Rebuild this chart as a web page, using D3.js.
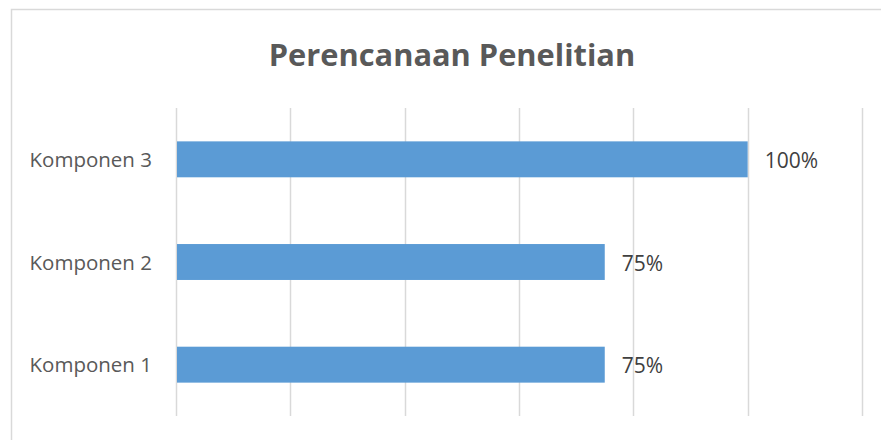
<!DOCTYPE html>
<html><head><meta charset="utf-8">
<script src="https://cdn.jsdelivr.net/npm/d3@7"></script>
<style>body{margin:0;background:#fff}svg{display:block}text{font-family:"Open Sans",sans-serif}</style>
</head><body><svg id="c" width="881" height="440"></svg>
<script>
const title = "Perencanaan Penelitian";
const categories = ["Komponen 1", "Komponen 2", "Komponen 3"];
const values = [0.75, 0.75, 1.00];
const tickValues = [0, 0.2, 0.4, 0.6, 0.8, 1.0, 1.2];

const svg = d3.select("#c");
// chart border
svg.append("path").attr("d", "M11.5,440 V9.5 H881").attr("fill","none").attr("stroke","#d9d9d9").attr("stroke-width",1.5);

const x = d3.scaleLinear().domain([0, 1.2]).range([176, 862]);
const y = d3.scaleBand().domain(categories.slice().reverse()).range([108, 416]).paddingInner(0.65).paddingOuter(0.325);

svg.append("text").attr("x", 452).attr("y", 66).attr("text-anchor","middle")
  .attr("font-size", 30.8).attr("font-weight","bold").attr("fill","#595959").text(title);

const g = svg.append("g");
g.selectAll("line.grid").data(tickValues).join("line").attr("class","grid")
  .attr("x1", d => Math.round(x(d)) + 0.5).attr("x2", d => Math.round(x(d)) + 0.5)
  .attr("y1", 108).attr("y2", 416).attr("stroke","#d9d9d9").attr("stroke-width",1.5);

g.selectAll("rect").data(categories).join("rect")
  .attr("x", x(0) + 1).attr("y", d => y(d))
  .attr("width", (d,i) => x(values[i]) - x(0) - 1).attr("height", y.bandwidth())
  .attr("fill","#5b9bd5");

g.selectAll("text.cat").data(categories).join("text").attr("class","cat")
  .attr("x", 152).attr("y", d => y(d) + y.bandwidth()/2 + 7.8).attr("text-anchor","end")
  .attr("font-size", 20.5).attr("fill","#595959").text(d => d);

g.selectAll("text.val").data(categories).join("text").attr("class","val")
  .attr("x", (d,i) => x(values[i]) + 17).attr("y", d => y(d) + y.bandwidth()/2 + 8.5)
  .attr("font-size", 21).attr("fill","#404040").text((d,i) => d3.format(".0%")(values[i]));
</script></body></html>
